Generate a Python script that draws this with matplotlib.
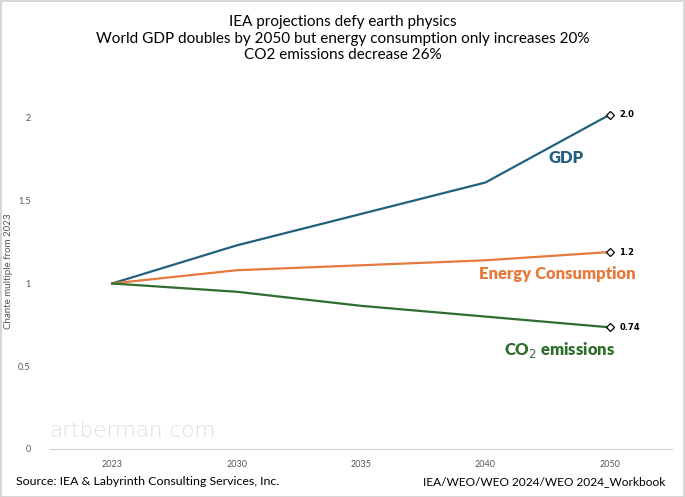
import matplotlib.pyplot as plt
from matplotlib.patches import Rectangle

years = ['2023', '2030', '2035', '2040', '2050']
gdp = [1.0, 1.23, 1.42, 1.61, 2.02]
energy = [1.0, 1.08, 1.11, 1.14, 1.19]
co2 = [1.0, 0.95, 0.865, 0.80, 0.735]
end_labels = ['2.0', '1.2', '0.74']

c_gdp = '#22607f'
c_energy = '#e67a3c'
c_co2 = '#2f6e2f'

plt.rcParams['font.family'] = ['Lato', 'DejaVu Sans']

fig = plt.figure(figsize=(6.85, 4.97), dpi=100)
ax = fig.add_axes([0.073, 0.0966, 0.908, 0.716])
x = list(range(len(years)))

series = [(gdp, c_gdp), (energy, c_energy), (co2, c_co2)]
for (vals, col), lab in zip(series, end_labels):
    ax.plot(x, vals, color=col, lw=1.6, zorder=3)
    ax.plot(x[-1], vals[-1], marker='D', ms=4.5, mfc='white', mec='black',
            mew=0.9, zorder=4)
    ax.annotate(lab, (x[-1], vals[-1]), xytext=(7, 0), textcoords='offset points',
                va='center', ha='left', fontsize=6, fontweight='bold', color='black',
                family='DejaVu Sans')

ax.text(3.65, 1.76, 'GDP', color=c_gdp, fontsize=12, fontweight='heavy', ha='center', va='center')
ax.text(3.58, 1.055, 'Energy Consumption', color=c_energy, fontsize=12, fontweight='heavy',
        ha='center', va='center')
ax.text(3.6, 0.6, 'CO$_2$ emissions', color=c_co2, fontsize=12, fontweight='heavy',
        ha='center', va='center')

ax.set_xlim(-0.5, 4.5)
ax.set_ylim(0, 2.15)
ax.set_xticks(x)
ax.set_xticklabels(years)
ax.set_yticks([0, 0.5, 1, 1.5, 2])
ax.set_yticklabels(['0', '0.5', '1', '1.5', '2'])
ax.tick_params(axis='both', length=0, labelsize=6.5, labelcolor='#555555')
ax.tick_params(axis='x', pad=8)
ax.tick_params(axis='y', pad=14)
for s in ['top', 'right', 'left']:
    ax.spines[s].set_visible(False)
ax.spines['bottom'].set_color('#d0d0d0')
ax.set_ylabel('Chante multiple from 2023', fontsize=7, color='#555555', labelpad=4)

ax.text(-0.51, 0.05, 'artberman.com', fontsize=15.5, color='#dedede', ha='left', va='bottom',
        zorder=1, family='DejaVu Sans', fontweight='light')

fig.text(0.5, 0.97, 'IEA projections defy earth physics\n'
         'World GDP doubles by 2050 but energy consumption only increases 20%\n'
         'CO2 emissions decrease 26%', ha='center', va='top', fontsize=11,
         linespacing=1.25)
fig.text(0.024, 0.032, 'Source: IEA & Labyrinth Consulting Services, Inc.', fontsize=8.9,
         ha='left', va='center')
fig.text(0.972, 0.032, 'IEA/WEO/WEO 2024/WEO 2024_Workbook', fontsize=8.6,
         ha='right', va='center')

fig.patches.append(Rectangle((0.001, 0.001), 0.997, 0.997, transform=fig.transFigure,
                             fill=False, edgecolor='#d0d0d0', lw=1.2))

fig.savefig('out.png', dpi=100)
